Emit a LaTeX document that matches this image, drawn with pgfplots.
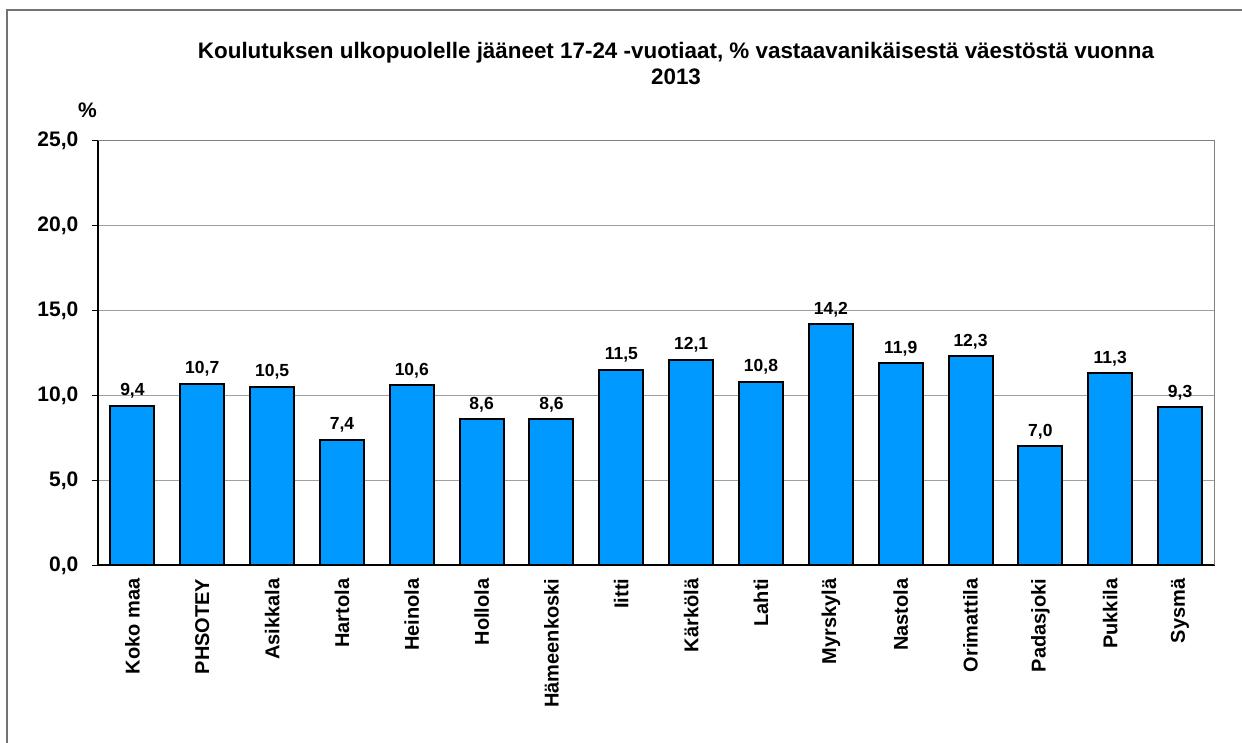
\documentclass[border=0pt]{standalone}
\usepackage{fontspec}
\setmainfont{Liberation Sans}
\usepackage{pgfplots}
\pgfplotsset{compat=1.18}

\definecolor{barblue}{RGB}{0,153,255}
\definecolor{gridgray}{RGB}{160,160,160}
\definecolor{framegray}{RGB}{128,128,128}

\pgfplotstableread{
idx value
0  9.4
1  10.7
2  10.5
3  7.4
4  10.6
5  8.6
6  8.6
7  11.5
8  12.1
9  10.8
10 14.2
11 11.9
12 12.3
13 7.0
14 11.3
15 9.3
}\shares

\begin{document}
\begin{tikzpicture}[x=1pt,y=1pt]
\path[use as bounding box] (0,0) rectangle (1242,743);
% outer chart frame
\draw[line width=1.5pt, color=black!55] (7,-20) -- (7,733) -- (1260,733);

% title
\node[anchor=base, font=\fontsize{22.4}{26}\selectfont\bfseries] at (676,684)
  {Koulutuksen ulkopuolelle jääneet 17-24 -vuotiaat, \% vastaavanikäisestä väestöstä vuonna};
\node[anchor=base, font=\fontsize{22.4}{26}\selectfont\bfseries] at (676,658) {2013};
% unit label
\node[anchor=base, font=\fontsize{21}{24}\selectfont\bfseries] at (87.5,625) {\%};

\begin{axis}[
  at={(97.5pt,177.5pt)}, anchor=south west,
  scale only axis, width=1117.5pt, height=425pt,
  xmin=-0.5, xmax=15.5, ymin=0, ymax=25,
  axis x line*=bottom, axis y line*=left,
  axis line style={black, line width=2pt},
  ytick={0,5,...,25},
  xtick={0,...,15},
  xticklabels={Koko maa, PHSOTEY, Asikkala, Hartola, Heinola, Hollola, Hämeenkoski, Iitti, Kärkölä, Lahti, Myrskylä, Nastola, Orimattila, Padasjoki, Pukkila, Sysmä},
  x tick style={draw=none},
  extra x ticks={-0.5,0.5,...,15.5},
  extra x tick labels={},
  extra x tick style={grid=none, major tick length=6pt, tick style={black, line width=1.5pt}},
  tick align=outside,
  major tick length=6pt,
  y tick style={black, line width=1.5pt},
  ymajorgrids,
  grid style={gridgray, line width=1.2pt},
  /pgf/number format/.cd, use comma, fixed, fixed zerofill, precision=1, assume math mode=true,
  /pgfplots/.cd,
  yticklabel style={font=\fontsize{21}{24}\selectfont\bfseries, anchor=east, inner sep=0pt, xshift=-13pt},
  xticklabel style={font=\fontsize{20}{24}\selectfont\bfseries, rotate=90, anchor=east, inner sep=0pt, xshift=-7pt},
  ybar, bar width=44pt,
  nodes near coords,
  every node near coord/.append style={font=\fontsize{17.5}{20}\selectfont\bfseries, anchor=base, inner sep=0pt, yshift=10pt},
]
\addplot[fill=barblue, draw=black, line width=2pt] table[x=idx, y=value] {\shares};
\draw[framegray, line width=1.5pt] (rel axis cs:0,1) -- (rel axis cs:1,1) -- (rel axis cs:1,0);
\end{axis}
\end{tikzpicture}
\end{document}
